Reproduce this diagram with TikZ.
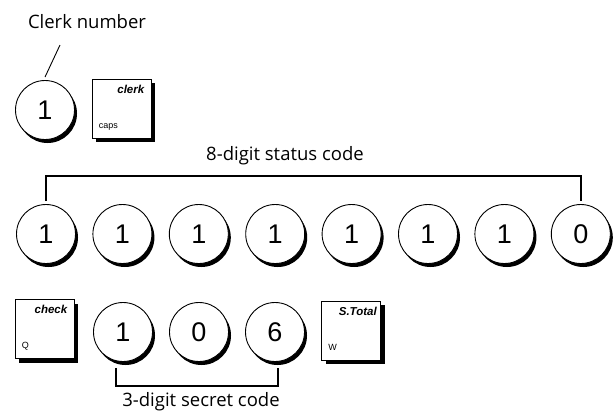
\documentclass[tikz,border=0pt]{standalone}
\usepackage{fontspec}
\setmainfont{Open Sans}
\newfontfamily\keyfont{Liberation Sans}
\usetikzlibrary{shadows}

\begin{document}
\begin{tikzpicture}[x=1pt, y=-1pt,
    every node/.style={font=\fontsize{18.5}{22}\selectfont},
    digit/.style={circle, draw, line width=0.9pt, fill=white, minimum size=59pt, inner sep=0pt,
      font=\keyfont\fontsize{27}{30}\selectfont,
      drop shadow={shadow xshift=2.5pt, shadow yshift=-3.5pt, fill=black, opacity=1}},
    keybox/.style={rectangle, draw, line width=0.9pt, fill=white, minimum width=59pt, minimum height=59pt, inner sep=0pt,
      drop shadow={shadow xshift=4pt, shadow yshift=-4pt, fill=black, opacity=1}},
    keytop/.style={font=\keyfont\bfseries\itshape\fontsize{11.5}{13}\selectfont, anchor=north east, inner sep=0pt},
    keysub/.style={font=\keyfont\fontsize{9}{11}\selectfont, anchor=base west, inner sep=0pt},
    codeline/.style={line width=1.6pt},
    caption/.style={anchor=base, inner sep=0pt}]

  \useasboundingbox (0,0) rectangle (616,410);

  % clerk number
  \node[caption] (lClerk) at (87,28) {Clerk number};
  \coordinate (clerkTip) at (60,45);
  \node[digit] (c0) at (45,110) {1};
  \node[keybox] (kClerk) at (121.5,108.5) {};
  \node[keytop] (tClerk) at ([xshift=-7pt,yshift=-6pt]kClerk.north east) {clerk};
  \node[keysub] (sClerk) at ([xshift=7pt,yshift=10pt]kClerk.south west) {caps};
  \draw[line width=0.9pt] (clerkTip) -- ([yshift=3pt]c0.north);

  % status code
  \node[caption] (lStatus) at (285,160) {8-digit status code};
  \node[digit] (s1) at ( 46.0,234) {1};
  \node[digit] (s2) at (122.4,234) {1};
  \node[digit] (s3) at (198.8,234) {1};
  \node[digit] (s4) at (275.2,234) {1};
  \node[digit] (s5) at (351.6,234) {1};
  \node[digit] (s6) at (428.0,234) {1};
  \node[digit] (s7) at (504.4,234) {1};
  \node[digit] (s8) at (580.8,234) {0};
  \draw[codeline] ([yshift=3pt]s1.north) -- ++(0,-25) -| ([yshift=3pt]s8.north);

  % secret code
  \node[keybox] (kCheck) at (44.5,329) {};
  \node[keytop] (tCheck) at ([xshift=-7pt,yshift=-6pt]kCheck.north east) {check};
  \node[keysub] (sCheck) at ([xshift=7pt,yshift=10pt]kCheck.south west) {Q};
  \node[digit] (d1) at (123,332) {1};
  \node[digit] (d2) at (199,332) {0};
  \node[digit] (d3) at (275,332) {6};
  \node[keybox] (kTotal) at (351,330.5) {};
  \node[keytop] (tTotal) at ([xshift=-4pt,yshift=-6pt]kTotal.north east) {S.Total};
  \node[keysub] (sTotal) at ([xshift=7pt,yshift=10pt]kTotal.south west) {W};
  \draw[codeline] ([xshift=-7pt,yshift=-6pt]d1.south) -- ++(0,18) -| ([xshift=3pt,yshift=-6pt]d3.south);
  \node[caption] (lSecret) at (201,406) {3-digit secret code};
\end{tikzpicture}
\end{document}
